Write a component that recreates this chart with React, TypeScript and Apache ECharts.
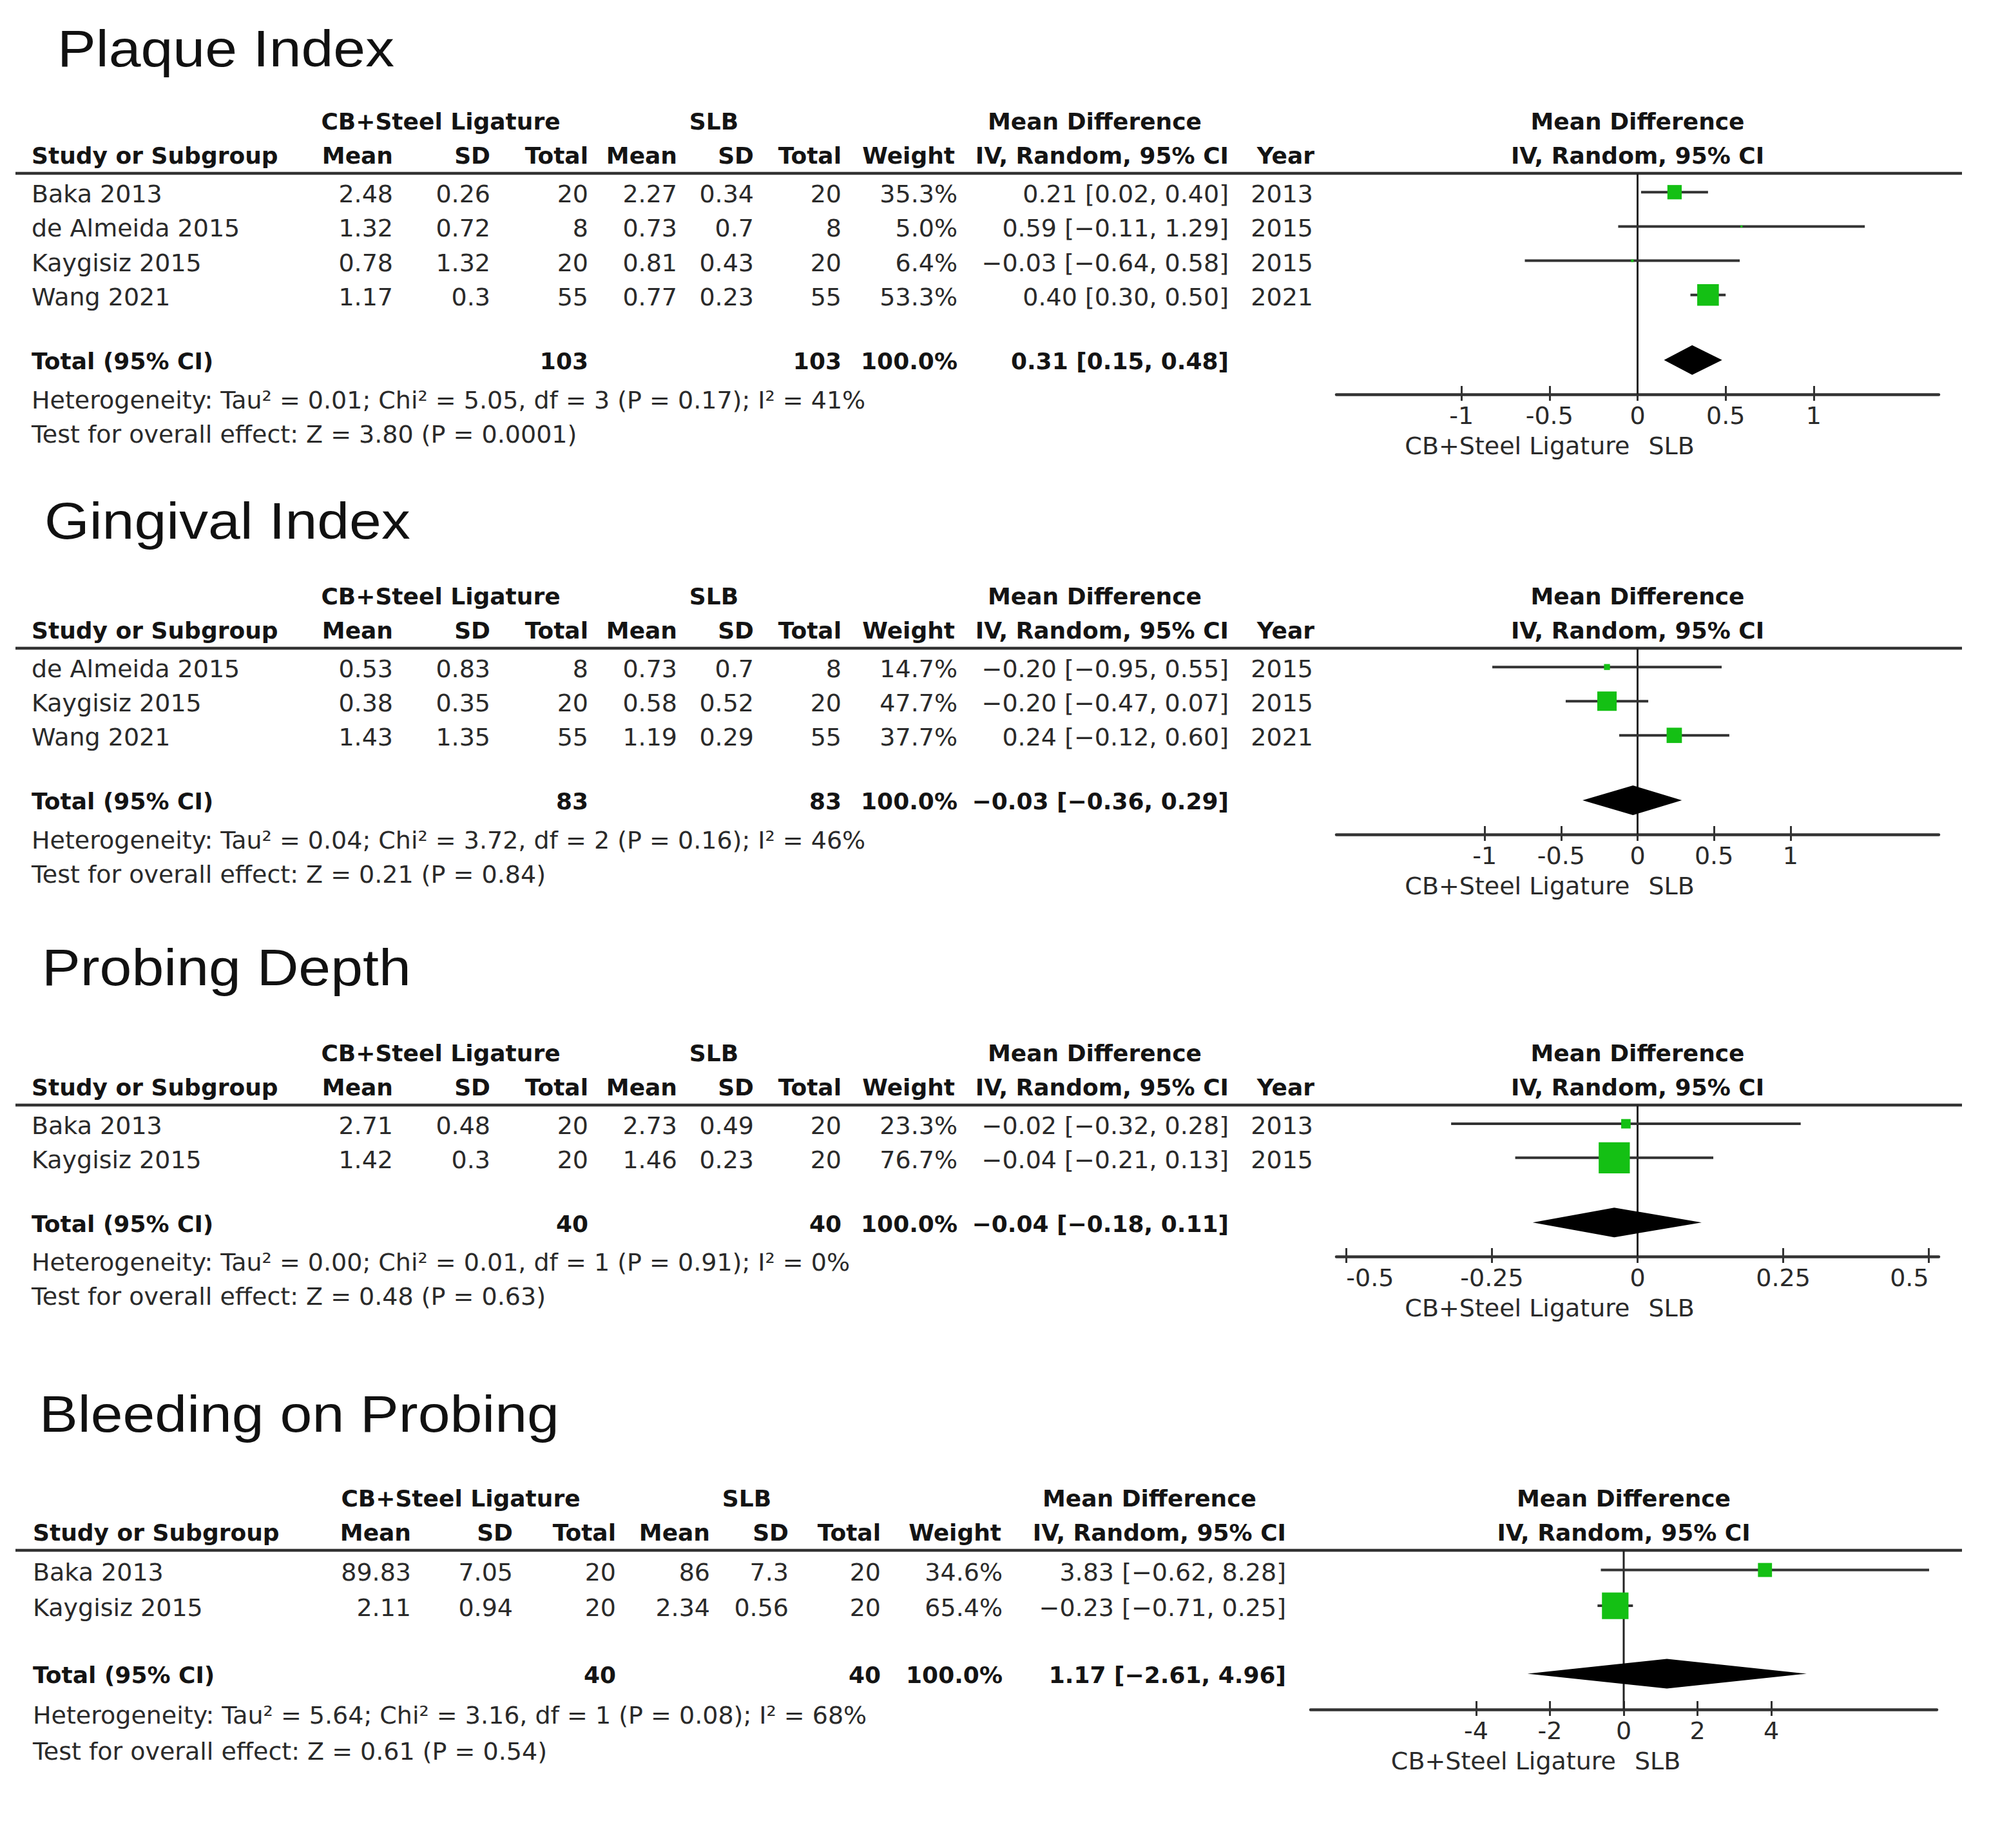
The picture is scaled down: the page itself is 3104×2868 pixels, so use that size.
import React, { useEffect, useRef } from "react";
import * as echarts from "echarts";

// ---------------- DATA ----------------
const TITLES = ["Plaque Index", "Gingival Index", "Probing Depth", "Bleeding on Probing"];
const GROUP_A = "CB+Steel Ligature";
const GROUP_B = "SLB";

// Plaque Index
const plaqueStudies = ["Baka 2013", "de Almeida 2015", "Kaygisiz 2015", "Wang 2021"];
const plaqueMeanA = [2.48, 1.32, 0.78, 1.17];
const plaqueSdA = [0.26, 0.72, 1.32, 0.3];
const plaqueNA = [20, 8, 20, 55];
const plaqueMeanB = [2.27, 0.73, 0.81, 0.77];
const plaqueSdB = [0.34, 0.7, 0.43, 0.23];
const plaqueNB = [20, 8, 20, 55];
const plaqueWeight = [35.3, 5.0, 6.4, 53.3];
const plaqueMD = [0.21, 0.59, -0.03, 0.4];
const plaqueLow = [0.02, -0.11, -0.64, 0.3];
const plaqueHigh = [0.4, 1.29, 0.58, 0.5];
const plaqueYear = [2013, 2015, 2015, 2021];
const plaqueTotal = { nA: 103, nB: 103, md: 0.31, low: 0.15, high: 0.48 };
const plaqueHet = "Heterogeneity: Tau² = 0.01; Chi² = 5.05, df = 3 (P = 0.17); I² = 41%";
const plaqueTest = "Test for overall effect: Z = 3.80 (P = 0.0001)";
const plaqueTicks = [-1, -0.5, 0, 0.5, 1];
const plaqueRange = [-1.71, 1.71];

// Gingival Index
const gingStudies = ["de Almeida 2015", "Kaygisiz 2015", "Wang 2021"];
const gingMeanA = [0.53, 0.38, 1.43];
const gingSdA = [0.83, 0.35, 1.35];
const gingNA = [8, 20, 55];
const gingMeanB = [0.73, 0.58, 1.19];
const gingSdB = [0.7, 0.52, 0.29];
const gingNB = [8, 20, 55];
const gingWeight = [14.7, 47.7, 37.7];
const gingMD = [-0.2, -0.2, 0.24];
const gingLow = [-0.95, -0.47, -0.12];
const gingHigh = [0.55, 0.07, 0.6];
const gingYear = [2015, 2015, 2021];
const gingTotal = { nA: 83, nB: 83, md: -0.03, low: -0.36, high: 0.29 };
const gingHet = "Heterogeneity: Tau² = 0.04; Chi² = 3.72, df = 2 (P = 0.16); I² = 46%";
const gingTest = "Test for overall effect: Z = 0.21 (P = 0.84)";
const gingTicks = [-1, -0.5, 0, 0.5, 1];
const gingRange = [-1.97, 1.97];

// Probing Depth
const probStudies = ["Baka 2013", "Kaygisiz 2015"];
const probMeanA = [2.71, 1.42];
const probSdA = [0.48, 0.3];
const probNA = [20, 20];
const probMeanB = [2.73, 1.46];
const probSdB = [0.49, 0.23];
const probNB = [20, 20];
const probWeight = [23.3, 76.7];
const probMD = [-0.02, -0.04];
const probLow = [-0.32, -0.21];
const probHigh = [0.28, 0.13];
const probYear = [2013, 2015];
const probTotal = { nA: 40, nB: 40, md: -0.04, low: -0.18, high: 0.11 };
const probHet = "Heterogeneity: Tau² = 0.00; Chi² = 0.01, df = 1 (P = 0.91); I² = 0%";
const probTest = "Test for overall effect: Z = 0.48 (P = 0.63)";
const probTicks = [-0.5, -0.25, 0, 0.25, 0.5];
const probRange = [-0.517, 0.517];

// Bleeding on Probing
const bleedStudies = ["Baka 2013", "Kaygisiz 2015"];
const bleedMeanA = [89.83, 2.11];
const bleedSdA = [7.05, 0.94];
const bleedNA = [20, 20];
const bleedMeanB = [86, 2.34];
const bleedSdB = [7.3, 0.56];
const bleedNB = [20, 20];
const bleedWeight = [34.6, 65.4];
const bleedMD = [3.83, -0.23];
const bleedLow = [-0.62, -0.71];
const bleedHigh = [8.28, 0.25];
const bleedYear: number[] | null = null;
const bleedTotal = { nA: 40, nB: 40, md: 1.17, low: -2.61, high: 4.96 };
const bleedHet = "Heterogeneity: Tau² = 5.64; Chi² = 3.16, df = 1 (P = 0.08); I² = 68%";
const bleedTest = "Test for overall effect: Z = 0.61 (P = 0.54)";
const bleedTicks = [-4, -2, 0, 2, 4];
const bleedRange = [-8.49, 8.49];

const PANELS = [
  { studies: plaqueStudies, meanA: plaqueMeanA, sdA: plaqueSdA, nA: plaqueNA, meanB: plaqueMeanB, sdB: plaqueSdB, nB: plaqueNB, weight: plaqueWeight, md: plaqueMD, low: plaqueLow, high: plaqueHigh, year: plaqueYear, total: plaqueTotal, het: plaqueHet, test: plaqueTest, ticks: plaqueTicks, range: plaqueRange },
  { studies: gingStudies, meanA: gingMeanA, sdA: gingSdA, nA: gingNA, meanB: gingMeanB, sdB: gingSdB, nB: gingNB, weight: gingWeight, md: gingMD, low: gingLow, high: gingHigh, year: gingYear, total: gingTotal, het: gingHet, test: gingTest, ticks: gingTicks, range: gingRange },
  { studies: probStudies, meanA: probMeanA, sdA: probSdA, nA: probNA, meanB: probMeanB, sdB: probSdB, nB: probNB, weight: probWeight, md: probMD, low: probLow, high: probHigh, year: probYear, total: probTotal, het: probHet, test: probTest, ticks: probTicks, range: probRange },
  { studies: bleedStudies, meanA: bleedMeanA, sdA: bleedSdA, nA: bleedNA, meanB: bleedMeanB, sdB: bleedSdB, nB: bleedNB, weight: bleedWeight, md: bleedMD, low: bleedLow, high: bleedHigh, year: bleedYear, total: bleedTotal, het: bleedHet, test: bleedTest, ticks: bleedTicks, range: bleedRange },
];

// ---------------- LAYOUT (pixels) ----------------
const COLS_A = { study: 49, meanA: 610, sdA: 761, nA: 913, meanB: 1051, sdB: 1170, nB: 1306, weight: 1486, weightHead: 1482, ci: 1907, mdHead: 1865, year: 2038, cbCenter: 684, slbCenter: 1108 };
const COLS_B = { study: 51, meanA: 638, sdA: 796, nA: 956, meanB: 1102, sdB: 1224, nB: 1367, weight: 1556, weightHead: 1554, ci: 1996, mdHead: 1950, year: 0, cbCenter: 715, slbCenter: 1159 };
const LAYOUT = [
  { titleX: 89, titleY: 75, top: 269, bottom: 612, left: 2074, right: 3009, cols: COLS_A },
  { titleX: 69, titleY: 808, top: 1006, bottom: 1295, left: 2074, right: 3009, cols: COLS_A },
  { titleX: 65, titleY: 1501, top: 1715, bottom: 1950, left: 2074, right: 3009, cols: COLS_A },
  { titleX: 61, titleY: 2194, top: 2406, bottom: 2653, left: 2034, right: 3006, cols: COLS_B },
];
const Y_MIN = -0.55;
const TABLE_FONT = "'DejaVu Sans', 'Noto Sans', sans-serif";
const TITLE_FONT = "'Liberation Sans', Arial, sans-serif";
const GREEN = "#14c014";
const INK = "#2a2a2a";
const INK_BOLD = "#141414";
const LINE = "#333333";

const fmtMD = (v: number) => (v < 0 ? "−" : "") + Math.abs(v).toFixed(2);
const fmtCI = (m: number, l: number, h: number) => `${fmtMD(m)} [${fmtMD(l)}, ${fmtMD(h)}]`;
const fmtW = (w: number) => w.toFixed(1) + "%";

function txt(text: string, x: number, y: number, align: string, bold = false) {
  return {
    type: "text",
    x,
    y,
    silent: true,
    style: {
      text,
      fill: bold ? INK_BOLD : INK,
      fontSize: bold ? 36 : 38,
      fontFamily: TABLE_FONT,
      fontWeight: bold ? "bold" : "normal",
      textAlign: align,
      textVerticalAlign: "middle",
      verticalAlign: "middle",
    },
  };
}

function buildOption() {
  const grid: any[] = [];
  const xAxis: any[] = [];
  const yAxis: any[] = [];
  const series: any[] = [];
  const graphic: any[] = [];

  PANELS.forEach((p, i) => {
    const L = LAYOUT[i];
    const c = L.cols;
    const n = p.studies.length;
    const yMax = n + 1.9;
    const totalIdx = n + 0.9;
    const rowPix = (idx: number) => L.top + ((idx - Y_MIN) / (yMax - Y_MIN)) * (L.bottom - L.top);
    const s = (L.bottom - L.top) / (yMax - Y_MIN);
    const x0 = L.left + ((0 - p.range[0]) / (p.range[1] - p.range[0])) * (L.right - L.left);

    grid.push({ left: L.left, top: L.top, width: L.right - L.left, height: L.bottom - L.top, containLabel: false });
    yAxis.push({ gridIndex: i, type: "value", min: Y_MIN, max: yMax, inverse: true, show: false });
    xAxis.push({
      gridIndex: i,
      type: "value",
      min: p.range[0],
      max: p.range[1],
      position: "bottom",
      axisLine: { show: true, onZero: false, lineStyle: { color: LINE, width: 4.5 } },
      axisTick: { show: true, customValues: p.ticks, inside: false, length: 10, lineStyle: { color: LINE, width: 3 } },
      axisLabel: {
        show: true,
        customValues: p.ticks,
        margin: 14,
        fontSize: 38,
        fontFamily: TABLE_FONT,
        color: INK,
        formatter: (v: number) => String(v),
        ...(i === 2 ? { alignMinLabel: "left", alignMaxLabel: "right" } : {}),
      },
      splitLine: { show: false },
    });
    xAxis.push({
      gridIndex: i,
      type: "value",
      min: p.range[0],
      max: p.range[1],
      position: "bottom",
      axisLine: { show: false, onZero: false },
      axisTick: { show: true, customValues: p.ticks, inside: true, length: 13, lineStyle: { color: LINE, width: 3 } },
      axisLabel: { show: false },
      splitLine: { show: false },
    });
    const xi = i * 2;

    // zero line
    series.push({
      type: "custom",
      xAxisIndex: xi,
      yAxisIndex: i,
      z: 1,
      silent: true,
      data: [[0, Y_MIN, yMax]],
      renderItem: (params: any, api: any) => {
        const a = api.coord([api.value(0), api.value(1)]);
        const b = api.coord([api.value(0), api.value(2)]);
        return { type: "line", shape: { x1: a[0], y1: a[1], x2: b[0], y2: b[1] }, style: { stroke: "#222", lineWidth: 3 } };
      },
    });
    // studies
    series.push({
      type: "custom",
      xAxisIndex: xi,
      yAxisIndex: i,
      z: 3,
      silent: true,
      data: p.md.map((m, k) => [m, k, p.low[k], p.high[k], p.weight[k]]),
      renderItem: (params: any, api: any) => {
        const y = api.value(1);
        const c0 = api.coord([api.value(0), y]);
        const lo = api.coord([api.value(2), y]);
        const hi = api.coord([api.value(3), y]);
        const side = Math.max(3, api.value(4) * 0.63);
        return {
          type: "group",
          children: [
            { type: "line", shape: { x1: lo[0], y1: lo[1], x2: hi[0], y2: hi[1] }, style: { stroke: LINE, lineWidth: 4 } },
            { type: "rect", shape: { x: c0[0] - side / 2, y: c0[1] - side / 2, width: side, height: side }, style: { fill: GREEN } },
          ],
        };
      },
    });
    // pooled diamond
    series.push({
      type: "custom",
      xAxisIndex: xi,
      yAxisIndex: i,
      z: 3,
      silent: true,
      data: [[p.total.md, totalIdx, p.total.low, p.total.high]],
      renderItem: (params: any, api: any) => {
        const y = api.value(1);
        const m = api.coord([api.value(0), y]);
        const lo = api.coord([api.value(2), y]);
        const hi = api.coord([api.value(3), y]);
        const hh = 23;
        return {
          type: "polygon",
          shape: { points: [[lo[0], m[1]], [m[0], m[1] - hh], [hi[0], m[1]], [m[0], m[1] + hh]] },
          style: { fill: "#000" },
        };
      },
    });

    // ---- texts ----
    graphic.push({
      type: "text",
      x: L.titleX,
      y: L.titleY,
      scaleX: 1.12,
      silent: true,
      style: { text: TITLES[i], fill: "#111", fontSize: 80, fontFamily: TITLE_FONT, textAlign: "left", textVerticalAlign: "middle", verticalAlign: "middle" },
    });
    const h1 = L.top - 81;
    const h2 = L.top - 28;
    graphic.push(txt(GROUP_A, c.cbCenter, h1, "center", true));
    graphic.push(txt(GROUP_B, c.slbCenter, h1, "center", true));
    graphic.push(txt("Mean Difference", c.mdHead, h1, "right", true));
    graphic.push(txt("Mean Difference", x0, h1, "center", true));
    graphic.push(txt("Study or Subgroup", c.study, h2, "left", true));
    graphic.push(txt("Mean", c.meanA, h2, "right", true));
    graphic.push(txt("SD", c.sdA, h2, "right", true));
    graphic.push(txt("Total", c.nA, h2, "right", true));
    graphic.push(txt("Mean", c.meanB, h2, "right", true));
    graphic.push(txt("SD", c.sdB, h2, "right", true));
    graphic.push(txt("Total", c.nB, h2, "right", true));
    graphic.push(txt("Weight", c.weightHead, h2, "right", true));
    graphic.push(txt("IV, Random, 95% CI", c.ci, h2, "right", true));
    if (p.year) graphic.push(txt("Year", c.year + 2, h2, "right", true));
    graphic.push(txt("IV, Random, 95% CI", x0, h2, "center", true));
    graphic.push({
      type: "line",
      silent: true,
      shape: { x1: 24, y1: L.top, x2: 3045, y2: L.top },
      style: { stroke: LINE, lineWidth: 4.5 },
    });

    p.studies.forEach((name, k) => {
      const y = rowPix(k) + 3;
      graphic.push(txt(name, c.study, y, "left"));
      graphic.push(txt(String(p.meanA[k]), c.meanA, y, "right"));
      graphic.push(txt(String(p.sdA[k]), c.sdA, y, "right"));
      graphic.push(txt(String(p.nA[k]), c.nA, y, "right"));
      graphic.push(txt(String(p.meanB[k]), c.meanB, y, "right"));
      graphic.push(txt(String(p.sdB[k]), c.sdB, y, "right"));
      graphic.push(txt(String(p.nB[k]), c.nB, y, "right"));
      graphic.push(txt(fmtW(p.weight[k]), c.weight, y, "right"));
      graphic.push(txt(fmtCI(p.md[k], p.low[k], p.high[k]), c.ci, y, "right"));
      if (p.year) graphic.push(txt(String(p.year[k]), c.year, y, "right"));
    });
    const ty = rowPix(totalIdx) + 2;
    graphic.push(txt("Total (95% CI)", c.study, ty, "left", true));
    graphic.push(txt(String(p.total.nA), c.nA, ty, "right", true));
    graphic.push(txt(String(p.total.nB), c.nB, ty, "right", true));
    graphic.push(txt(fmtW(100), c.weight, ty, "right", true));
    graphic.push(txt(fmtCI(p.total.md, p.total.low, p.total.high), c.ci, ty, "right", true));
    graphic.push(txt(p.het, c.study, ty + 1.13 * s, "left"));
    graphic.push(txt(p.test, c.study, ty + 2.13 * s, "left"));

    graphic.push(txt(GROUP_A, x0 - 12, L.bottom + 80, "right"));
    graphic.push(txt(GROUP_B, x0 + 17, L.bottom + 80, "left"));
  });

  return {
    animation: false,
    backgroundColor: "#ffffff",
    grid,
    xAxis,
    yAxis,
    series,
    graphic: { elements: graphic },
  };
}

export default function App() {
  const ref = useRef<HTMLDivElement>(null);
  useEffect(() => {
    document.body.style.margin = "0";
    document.body.style.overflow = "hidden";
    if (!ref.current) return;
    const chart = echarts.init(ref.current, undefined, { renderer: "svg" });
    chart.setOption(buildOption() as any);
    return () => chart.dispose();
  }, []);
  return <div ref={ref} style={{ width: 3104, height: 2868, background: "#fff" }} />;
}
